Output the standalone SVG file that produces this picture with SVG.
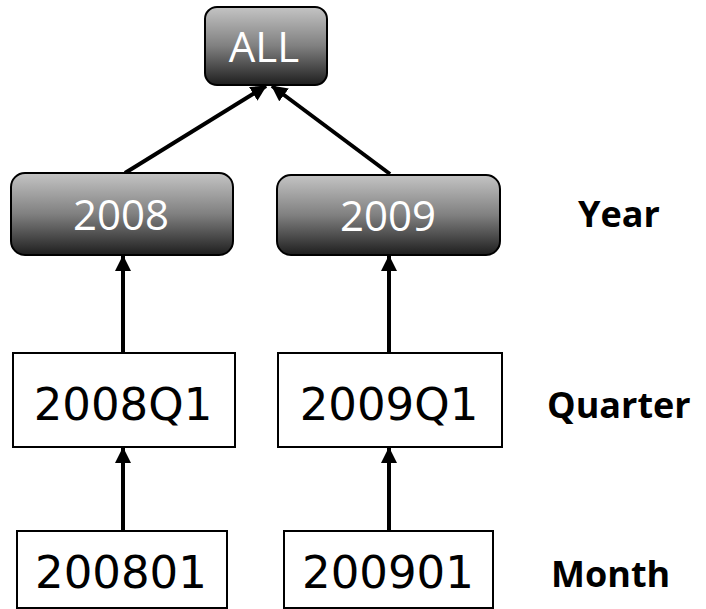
<svg xmlns="http://www.w3.org/2000/svg" width="706" height="609" viewBox="0 0 706 609">
<defs>
<linearGradient id="g" x1="0" y1="0" x2="0" y2="1">
<stop offset="0" stop-color="#c4c4c4"/>
<stop offset="0.5" stop-color="#808080"/>
<stop offset="1" stop-color="#1e1e1e"/>
</linearGradient>
<marker id="ah2" markerWidth="16" markerHeight="16" refX="15" refY="8" orient="auto" markerUnits="userSpaceOnUse" viewBox="0 0 16 16">
<path d="M0,0 L16,8 L0,16 z" fill="#000"/>
</marker>
</defs>
<style>
.dark rect{fill:url(#g);stroke:#000;stroke-width:2}
.dark text{fill:#fff;font-family:"Open Sans","Liberation Sans",sans-serif;font-size:42px;text-anchor:middle}
.plain rect{fill:#fff;stroke:#000;stroke-width:2}
.plain text{fill:#000;font-family:"DejaVu Sans","Liberation Sans",sans-serif;font-size:45px;text-anchor:middle}
.lbl{fill:#000;font-family:"Open Sans","Liberation Sans",sans-serif;font-weight:bold;font-size:36px}
.c line{stroke:#000;stroke-width:4;marker-end:url(#ah2)}
</style>
<g class="c" id="connectors">
<line x1="125" y1="173" x2="266" y2="86"/>
<line x1="390" y1="174" x2="272" y2="86"/>
<line x1="123" y1="353" x2="123" y2="256"/>
<line x1="389" y1="353" x2="389" y2="256"/>
<line x1="123" y1="531" x2="123" y2="448"/>
<line x1="389" y1="531" x2="389" y2="448"/>
</g>
<g id="all" class="dark"><rect x="205" y="7" width="122" height="78" rx="12"/><text x="264" y="62">ALL</text></g>
<g id="y2008" class="dark"><rect x="11" y="173" width="222" height="82" rx="14"/><text x="121" y="230">2008</text></g>
<g id="y2009" class="dark"><rect x="277" y="175" width="223" height="80" rx="14"/><text x="388" y="231">2009</text></g>
<g id="q2008" class="plain"><rect x="13" y="353" width="222" height="94"/><text x="123" y="420">2008Q1</text></g>
<g id="q2009" class="plain"><rect x="278" y="353" width="224" height="94"/><text x="389" y="420">2009Q1</text></g>
<g id="m2008" class="plain"><rect x="17" y="531" width="210" height="77"/><text x="121" y="588">200801</text></g>
<g id="m2009" class="plain"><rect x="284" y="531" width="209" height="77"/><text x="388" y="588">200901</text></g>
<text class="lbl" x="578" y="227">Year</text>
<text class="lbl" x="547" y="418">Quarter</text>
<text class="lbl" x="551" y="587">Month</text>
</svg>
